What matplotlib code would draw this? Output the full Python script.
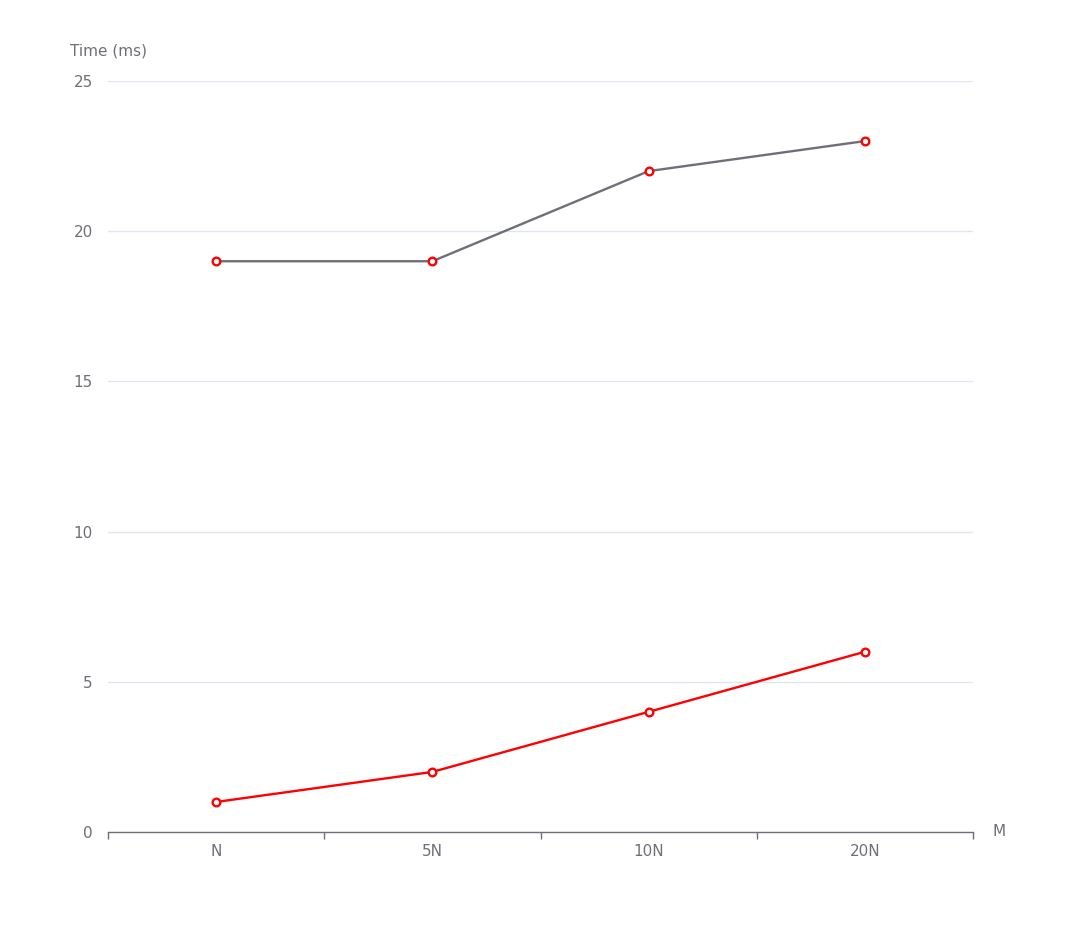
import matplotlib
matplotlib.use("Agg")
import matplotlib.pyplot as plt

categories = ["N", "5N", "10N", "20N"]
series_gray = [19, 19, 22, 23]
series_red = [1, 2, 4, 6]
y_ticks = [0, 5, 10, 15, 20, 25]

TEXT = "#6e7079"
GRID = "#e0e6f1"
AXIS = "#6e7079"

fig = plt.figure(figsize=(10.81, 9.27), dpi=100)
W, H = 1081, 927
ax = fig.add_axes([108 / W, 1 - 832 / H, (973 - 108) / W, (832 - 81) / H])

x = [i + 0.5 for i in range(len(categories))]

ax.plot(x, series_gray, color="#6e7079", linewidth=1.7, zorder=3)
ax.plot(x, series_red, color="#ff0000", linewidth=1.7, zorder=3)
for ys in (series_gray, series_red):
    ax.plot(x, ys, linestyle="none", marker="o", markersize=5.5,
            markerfacecolor="white", markeredgecolor="#ff0000",
            markeredgewidth=1.7, zorder=4)

ax.set_xlim(0, len(categories))
ax.set_ylim(0, 25)
ax.set_yticks(y_ticks)
ax.set_yticklabels([str(v) for v in y_ticks])
ax.set_xticks(range(len(categories) + 1))
ax.set_xticklabels([])
ax.set_xticks(x, minor=True)
ax.set_xticklabels(categories, minor=True)

ax.grid(axis="y", color=GRID, linewidth=1)
ax.set_axisbelow(True)
for s in ("top", "right", "left"):
    ax.spines[s].set_visible(False)
ax.spines["bottom"].set_color(AXIS)
ax.spines["bottom"].set_linewidth(1)

ax.tick_params(axis="y", length=0, pad=11, labelsize=11, labelcolor=TEXT)
ax.tick_params(axis="x", which="major", length=5, color=AXIS, width=1)
ax.tick_params(axis="x", which="minor", length=0, pad=9, labelsize=11, labelcolor=TEXT)

fig.text(70 / W, 1 - 51 / H, "Time (ms)", color=TEXT, fontsize=11, va="center", ha="left")
fig.text(993 / W, 1 - 832 / H, "M", color=TEXT, fontsize=11, va="center", ha="left")

fig.savefig("out.png", dpi=100)
